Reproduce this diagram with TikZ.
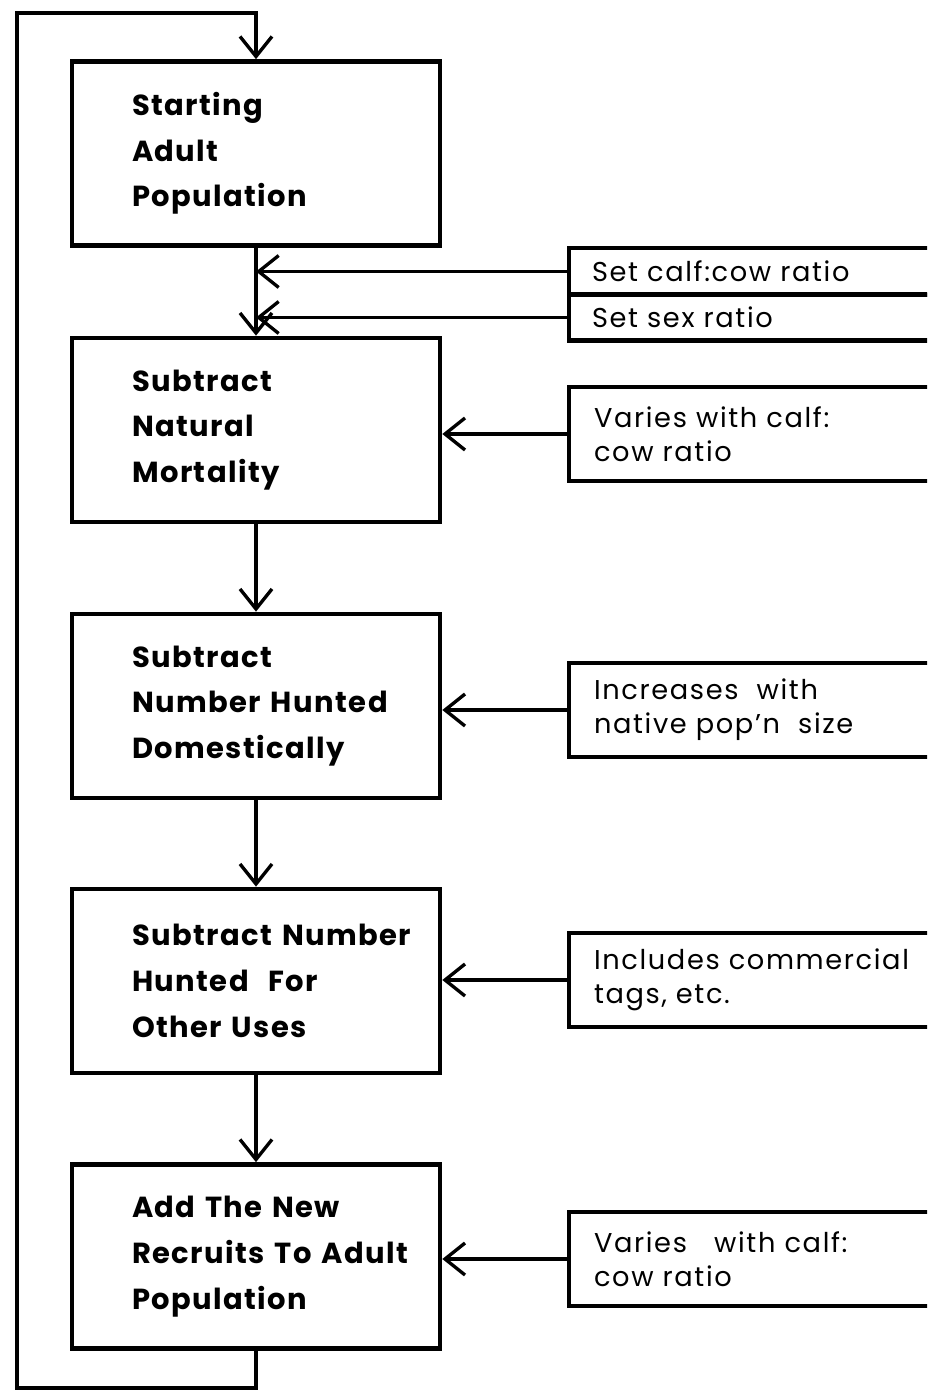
\documentclass[tikz,border=0pt]{standalone}
\usepackage{fontspec}
\newfontfamily\boxfont[LetterSpace=5]{Poppins}
\newfontfamily\notefont[LetterSpace=6]{Poppins}
\usetikzlibrary{arrows.meta}

\tikzset{
	mainbox/.style={draw, line width=2.7pt, text width=4.96cm, inner xsep=1.2cm,
		minimum height=3.68cm, align=left, font=\boxfont\bfseries\fontsize{16.5}{26}\selectfont},
	sidebox/.style={draw, line width=2.3pt, anchor=west, text width=6.6cm, inner xsep=0.5cm,
		minimum height=1.88cm, align=left, font=\notefont\fontsize{15.5}{19.5}\selectfont},
	feed/.style={line width=1.9pt, -{Straight Barb[length=4mm,width=6.4mm,line width=1.9pt]}},
}

\begin{document}
\begin{tikzpicture}[x=0.02cm, y=-0.02cm]
	\useasboundingbox (0,0) rectangle (927,1391);
	\clip (0,0) rectangle (927,1391);
	\node[mainbox] (start) at (256,153.5) {Starting\\Adult\\Population};
	\node[mainbox] (natural) at (256,430) {Subtract\\Natural\\Mortality};
	\node[mainbox] (domestic) at (256,706) {\mbox{Subtract}\\\mbox{Number Hunted}\\\mbox{Domestically}};
	\node[mainbox] (other) at (256,981) {\mbox{Subtract Number}\\\mbox{Hunted~ For}\\\mbox{Other Uses}};
	\node[mainbox] (recruit) at (256,1256.5) {\mbox{Add The New}\\\mbox{Recruits To Adult}\\\mbox{Population}};

	\node[sidebox, minimum height=0.94cm, inner xsep=0.46cm] (calfcow) at (567,271.5) {\mbox{Set calf:cow ratio}};
	\node[sidebox, minimum height=0.92cm, inner xsep=0.46cm] (sexratio) at (567,317.5) {\mbox{Set sex ratio}};
	\node[sidebox] (mortvary) at (567,434) {\mbox{Varies with calf:}\\\mbox{cow ratio}};
	\node[sidebox] (native) at (567,710) {\mbox{Increases~ with}\\\mbox{native pop’n~ size}};
	\node[sidebox] (tags) at (567,980) {\mbox{Includes commercial}\\\mbox{tags, etc.}};
	\node[sidebox] (recvary) at (567,1259) {\mbox{Varies~~ with calf:}\\\mbox{cow ratio}};

	\draw[feed] (start) -- (natural);
	\draw[feed] (natural) -- (domestic);
	\draw[feed] (domestic) -- (other);
	\draw[feed] (other) -- (recruit);

	\draw[feed] (calfcow.west) -- (calfcow.west -| start.south);
	\draw[feed] (sexratio.west) -- (sexratio.west -| start.south);
	\draw[feed] (mortvary.west) -- (mortvary.west -| natural.east);
	\draw[feed] (native.west) -- (native.west -| domestic.east);
	\draw[feed] (tags.west) -- (tags.west -| other.east);
	\draw[feed] (recvary.west) -- (recvary.west -| recruit.east);

	\coordinate (loopbot) at (17,1388);
	\coordinate (looptop) at (17,13);
	\draw[feed, line width=2.2pt] (recruit.south) |- (loopbot) -- (looptop) -| (start.north);
\end{tikzpicture}
\end{document}
